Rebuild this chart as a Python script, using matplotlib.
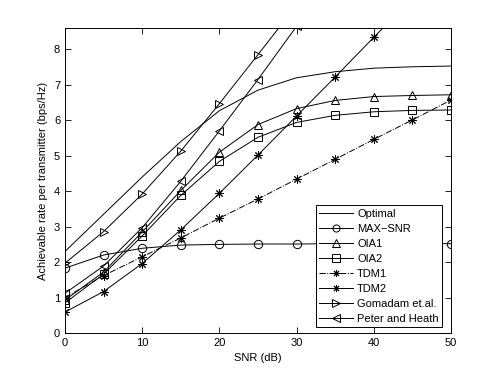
import matplotlib
matplotlib.use("Agg")
import matplotlib.pyplot as plt
import numpy as np

plt.rcParams['font.family'] = ['Liberation Sans', 'DejaVu Sans']

snr = [0, 5, 10, 15, 20, 25, 30, 35, 40, 45, 50]
optimal = [2.3, 3.35, 4.4, 5.4, 6.27, 6.85, 7.2, 7.37, 7.47, 7.51, 7.53]
max_snr = [1.83, 2.2, 2.39, 2.48, 2.5, 2.51, 2.51, 2.52, 2.52, 2.52, 2.52]
oia1 = [0.93, 1.72, 2.85, 4.02, 5.1, 5.88, 6.33, 6.56, 6.67, 6.7, 6.72]
oia2 = [0.85, 1.66, 2.74, 3.88, 4.84, 5.52, 5.94, 6.14, 6.24, 6.28, 6.29]
tdm1 = [1.0, 1.62, 2.15, 2.68, 3.24, 3.78, 4.34, 4.9, 5.46, 6.01, 6.57]
tdm2 = [0.59, 1.17, 1.96, 2.91, 3.94, 5.02, 6.12, 7.22, 8.34, 9.45, 10.5]
snr_g = [0, 5, 10, 15, 20, 25, 30]
gomadam = [1.97, 2.86, 3.92, 5.13, 6.47, 7.85, 9.25]
peter = [1.12, 1.89, 2.97, 4.28, 5.7, 7.15, 8.65]

labels = ['Optimal', 'MAX\u2212SNR', 'OIA1', 'OIA2', 'TDM1', 'TDM2',
          'Gomadam et.al.', 'Peter and Heath']

fig = plt.figure(figsize=(4.98, 3.75), dpi=100)
ax = fig.add_axes([0.1305, 0.112, 0.775, 0.813])

lw = 0.7
ms = 6
kw = dict(color='black', lw=lw, markersize=ms, markerfacecolor='none',
          markeredgecolor='black', markeredgewidth=0.7)
ast = (4, 2, 0)
ast8 = (8, 2, 0)
ax.plot(snr, optimal, '-', label=labels[0], **kw)
ax.plot(snr, max_snr, '-o', label=labels[1], **kw)
ax.plot(snr, oia1, '-^', label=labels[2], **kw)
ax.plot(snr, oia2, '-s', label=labels[3], **kw)
ax.plot(snr, tdm1, '-.', marker=ast8, label=labels[4], **kw)
ax.plot(snr, tdm2, '-', marker=ast8, label=labels[5], **kw)
ax.plot(snr_g, gomadam, '->', label=labels[6], **kw)
ax.plot(snr_g, peter, '-<', label=labels[7], **kw)

ax.set_xlim(0, 50)
ax.set_ylim(0, 8.6)
ax.set_xticks([0, 10, 20, 30, 40, 50])
ax.set_yticks(range(0, 9))
ax.tick_params(direction='in', top=True, right=True, labelsize=8, length=4, width=0.6)
for s in ax.spines.values():
    s.set_linewidth(0.7)
ax.set_xlabel('SNR (dB)', fontsize=8)
ax.set_ylabel('Achievable rate per transmitter (bps/Hz)', fontsize=8)

leg = ax.legend(loc='lower right', bbox_to_anchor=(0.977, 0.02), borderaxespad=0,
                fontsize=8, fancybox=False, framealpha=1, edgecolor='black',
                handlelength=3, labelspacing=0.45, borderpad=0.3, handletextpad=0.4,
                markerscale=0.85)
leg.get_frame().set_linewidth(0.7)

fig.savefig('out.png', dpi=100)
